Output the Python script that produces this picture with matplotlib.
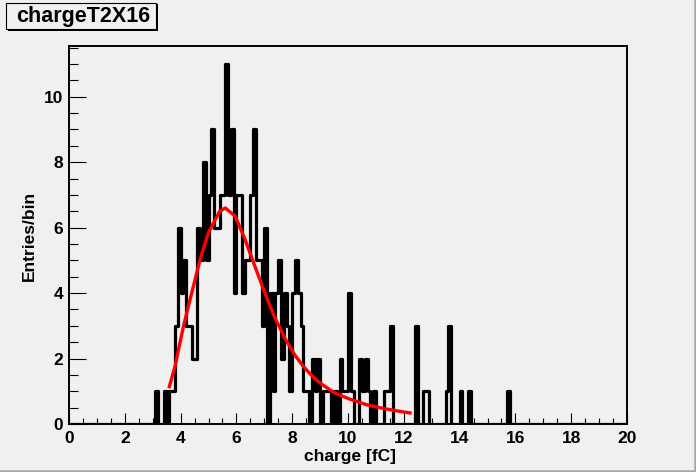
import numpy as np
import matplotlib
matplotlib.use("Agg")
import matplotlib.pyplot as plt
from matplotlib.lines import Line2D
from matplotlib.patches import Rectangle
from matplotlib.ticker import MultipleLocator

# ── data ────────────────────────────────────────────────────────────────────
# histogram: 0.1 fC bins from 0 to 20 fC, counts listed from the first filled
# bin (3.1 fC) to the last one (15.7 fC); every other bin is empty
N_BINS = 200
X_MIN, X_MAX = 0.0, 20.0
FIRST_BIN = 31
counts = [
    1, 0, 0, 1, 0, 1, 1, 3, 6, 4,      # 3.1 .. 4.0
    5, 3, 3, 2, 2, 6, 5, 8, 5, 7,      # 4.1 .. 5.0
    9, 6, 6, 7, 7, 11, 7, 9, 4, 7,     # 5.1 .. 6.0
    7, 4, 5, 5, 7, 9, 5, 5, 3, 6,      # 6.1 .. 7.0
    0, 4, 1, 4, 5, 2, 4, 3, 1, 4,      # 7.1 .. 8.0
    5, 4, 3, 1, 1, 0, 2, 1, 2, 0,      # 8.1 .. 9.0
    1, 1, 1, 0, 1, 0, 2, 1, 1, 4,      # 9.1 .. 10.0
    1, 0, 0, 2, 1, 2, 1, 0, 1, 0,      # 10.1 .. 11.0
    0, 0, 1, 1, 3, 0, 0, 0, 0, 0,      # 11.1 .. 12.0
    0, 0, 0, 3, 0, 0, 1, 1, 0, 0,      # 12.1 .. 13.0
    0, 0, 0, 0, 1, 3, 0, 0, 0, 1,      # 13.1 .. 14.0
    0, 0, 1, 0, 0, 0, 0, 0, 0, 0,      # 14.1 .. 15.0
    0, 0, 0, 0, 0, 0, 1,               # 15.1 .. 15.7
]

# red fit curve
fit_x = [3.58, 3.80, 4.10, 4.40, 4.70, 5.00, 5.40, 5.60, 5.95, 6.30, 6.65,
         7.00, 7.35, 7.75, 8.10, 8.40, 8.70, 9.00, 9.50, 10.00, 10.70,
         11.30, 11.90, 12.28]
fit_y = [1.09, 1.76, 2.98, 4.01, 5.03, 5.85, 6.50, 6.60, 6.36, 5.66, 4.85,
         4.05, 3.30, 2.60, 2.10, 1.76, 1.48, 1.25, 0.96, 0.78, 0.58,
         0.47, 0.38, 0.33]

TITLE = "chargeT2X16"
X_TITLE = "charge [fC]"
Y_TITLE = "Entries/bin"

# ── style ───────────────────────────────────────────────────────────────────
BG = "#f0f0f0"
FONT = ["Liberation Sans", "DejaVu Sans"]
W, H = 696, 472

plt.rcParams["font.family"] = FONT
plt.rcParams["font.weight"] = "bold"

fig = plt.figure(figsize=(W / 100, H / 100), dpi=100, facecolor=BG)
ax = fig.add_axes([69 / W, 48 / H, 558 / W, 378 / H], facecolor=BG)

edges = np.linspace(X_MIN, X_MAX, N_BINS + 1)
full = np.zeros(N_BINS)
full[FIRST_BIN:FIRST_BIN + len(counts)] = counts

step = ax.stairs(full, edges, color="black", linewidth=2.3, baseline=0)
step.set_joinstyle("round")
step.set_capstyle("round")

ax.plot(fit_x, fit_y, color="red", linewidth=2.4, solid_capstyle="butt", zorder=3)

ax.set_xlim(X_MIN, X_MAX)
ax.set_ylim(0, 11.55)

ax.xaxis.set_major_locator(MultipleLocator(2))
ax.xaxis.set_minor_locator(MultipleLocator(0.5))
ax.yaxis.set_major_locator(MultipleLocator(2))
ax.yaxis.set_minor_locator(MultipleLocator(0.5))

ax.tick_params(axis="both", which="both", direction="in", width=0.8,
               top=False, right=False, labelsize=12.5, colors="black")
ax.tick_params(axis="y", which="major", length=12.5, pad=4)
ax.tick_params(axis="y", which="minor", length=6.2)
ax.tick_params(axis="x", which="major", length=8, pad=5)
ax.tick_params(axis="x", which="minor", length=4)
for lab in ax.get_xticklabels() + ax.get_yticklabels():
    lab.set_fontweight("bold")

for side in ("left", "right", "top", "bottom"):
    ax.spines[side].set_linewidth(1.4)
    ax.spines[side].set_color("black")

fig.text(350 / W, 1 - 457 / H, X_TITLE, ha="center", va="center",
         fontsize=12.5, fontweight="bold")
fig.text(29 / W, 1 - 236 / H, Y_TITLE, ha="center", va="center",
         rotation=90, fontsize=12.5, fontweight="bold")

# title box with ROOT-like shadow
fig.add_artist(Rectangle((8 / W, 1 - 31 / H), 150 / W, 27 / H,
                         transform=fig.transFigure, facecolor="black",
                         edgecolor="none"))
fig.add_artist(Rectangle((6 / W, 1 - 29 / H), 150 / W, 26 / H,
                         transform=fig.transFigure, facecolor=BG,
                         edgecolor="black", linewidth=0.8))
fig.text(83 / W, 1 - 16.5 / H, TITLE, ha="center", va="center",
         fontsize=15.5, fontweight="bold")

# canvas bevel on bottom and right
fig.add_artist(Line2D([0, 1], [1.5 / H, 1.5 / H], transform=fig.transFigure,
                      color="#a8a8a8", linewidth=1.8))
fig.add_artist(Line2D([1 - 1.5 / W, 1 - 1.5 / W], [0, 1],
                      transform=fig.transFigure, color="#a8a8a8", linewidth=1.8))

fig.savefig("out.png", dpi=100, facecolor=BG)
